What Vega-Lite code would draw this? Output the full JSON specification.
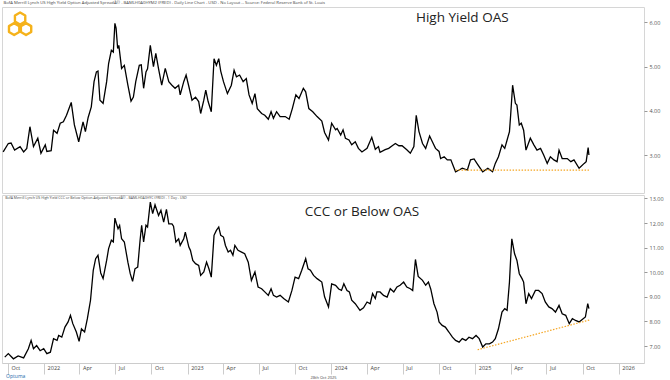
{
  "$schema": "https://vega.github.io/schema/vega-lite/v6.json",
  "padding": 0,
  "background": "white",
  "spacing": 0,
  "config": {"view": {"stroke": "#d6d6d6"}, "font": "Open Sans", "concat": {"spacing": 0}, "axis": {"labelOverlap": false}},
  "title": {"text": "Optuma", "orient": "bottom", "anchor": "start", "fontSize": 5, "fontWeight": "normal", "color": "#2266aa", "offset": -6, "dx": 6},
  "datasets": {
    "hy": [
      {"date":"2021-09-19","oas":3.07},{"date":"2021-10-02","oas":3.26},{"date":"2021-10-09","oas":3.27},{"date":"2021-10-18","oas":3.11},{"date":"2021-11-01","oas":3.19},{"date":"2021-11-10","oas":3.07},{"date":"2021-11-18","oas":3.15},{"date":"2021-11-26","oas":3.64},{"date":"2021-12-05","oas":3.19},{"date":"2021-12-16","oas":3.38},{"date":"2021-12-24","oas":3.04},
      {"date":"2022-01-04","oas":3.23},{"date":"2022-01-08","oas":3.08},{"date":"2022-01-19","oas":3.10},{"date":"2022-01-25","oas":3.56},{"date":"2022-02-03","oas":3.49},{"date":"2022-02-11","oas":3.72},{"date":"2022-02-19","oas":3.75},{"date":"2022-02-27","oas":3.90},{"date":"2022-03-11","oas":4.19},{"date":"2022-03-19","oas":3.68},{"date":"2022-03-30","oas":3.30},{"date":"2022-04-10","oas":3.75},{"date":"2022-04-16","oas":3.53},{"date":"2022-04-23","oas":3.85},{"date":"2022-05-01","oas":4.09},{"date":"2022-05-08","oas":4.66},{"date":"2022-05-14","oas":4.88},{"date":"2022-05-18","oas":4.90},{"date":"2022-05-23","oas":4.24},{"date":"2022-05-31","oas":4.17},{"date":"2022-06-09","oas":4.66},{"date":"2022-06-14","oas":5.07},{"date":"2022-06-21","oas":5.37},{"date":"2022-06-26","oas":5.33},{"date":"2022-06-30","oas":5.98},{"date":"2022-07-03","oas":5.87},{"date":"2022-07-07","oas":5.41},{"date":"2022-07-10","oas":5.48},{"date":"2022-07-17","oas":4.96},{"date":"2022-07-24","oas":5.03},{"date":"2022-08-02","oas":4.58},{"date":"2022-08-10","oas":4.22},{"date":"2022-08-16","oas":4.31},{"date":"2022-08-22","oas":4.66},{"date":"2022-08-31","oas":5.03},{"date":"2022-09-05","oas":5.04},{"date":"2022-09-11","oas":4.51},{"date":"2022-09-17","oas":4.88},{"date":"2022-09-21","oas":4.95},{"date":"2022-09-28","oas":5.48},{"date":"2022-10-06","oas":5.00},{"date":"2022-10-12","oas":5.30},{"date":"2022-10-19","oas":4.95},{"date":"2022-10-27","oas":4.58},{"date":"2022-11-05","oas":4.96},{"date":"2022-11-14","oas":4.66},{"date":"2022-11-22","oas":4.58},{"date":"2022-11-30","oas":4.51},{"date":"2022-12-09","oas":4.58},{"date":"2022-12-13","oas":4.36},{"date":"2022-12-22","oas":4.66},{"date":"2022-12-28","oas":4.81},
      {"date":"2023-01-04","oas":4.55},{"date":"2023-01-12","oas":4.24},{"date":"2023-01-21","oas":4.31},{"date":"2023-01-29","oas":4.21},{"date":"2023-02-03","oas":3.94},{"date":"2023-02-11","oas":4.24},{"date":"2023-02-16","oas":4.47},{"date":"2023-02-22","oas":4.21},{"date":"2023-03-02","oas":3.98},{"date":"2023-03-09","oas":5.18},{"date":"2023-03-15","oas":5.03},{"date":"2023-03-21","oas":5.18},{"date":"2023-03-26","oas":4.90},{"date":"2023-04-02","oas":4.66},{"date":"2023-04-12","oas":4.39},{"date":"2023-04-22","oas":4.58},{"date":"2023-04-29","oas":4.92},{"date":"2023-05-05","oas":4.77},{"date":"2023-05-13","oas":4.81},{"date":"2023-05-22","oas":4.66},{"date":"2023-05-30","oas":4.73},{"date":"2023-06-06","oas":4.36},{"date":"2023-06-14","oas":4.17},{"date":"2023-06-21","oas":4.39},{"date":"2023-06-27","oas":4.05},{"date":"2023-07-08","oas":3.94},{"date":"2023-07-16","oas":3.90},{"date":"2023-07-25","oas":3.81},{"date":"2023-08-01","oas":3.98},{"date":"2023-08-07","oas":3.83},{"date":"2023-08-15","oas":3.98},{"date":"2023-08-24","oas":3.87},{"date":"2023-09-06","oas":3.87},{"date":"2023-09-16","oas":3.81},{"date":"2023-09-24","oas":4.05},{"date":"2023-10-03","oas":4.36},{"date":"2023-10-11","oas":4.28},{"date":"2023-10-22","oas":4.51},{"date":"2023-10-28","oas":4.43},{"date":"2023-11-05","oas":4.05},{"date":"2023-11-15","oas":3.98},{"date":"2023-11-26","oas":3.87},{"date":"2023-12-08","oas":3.77},{"date":"2023-12-15","oas":3.51},{"date":"2023-12-25","oas":3.34},
      {"date":"2024-01-02","oas":3.72},{"date":"2024-01-12","oas":3.57},{"date":"2024-01-16","oas":3.60},{"date":"2024-01-25","oas":3.45},{"date":"2024-01-31","oas":3.57},{"date":"2024-02-06","oas":3.38},{"date":"2024-02-15","oas":3.34},{"date":"2024-02-22","oas":3.23},{"date":"2024-03-02","oas":3.30},{"date":"2024-03-10","oas":3.15},{"date":"2024-03-19","oas":3.07},{"date":"2024-04-01","oas":3.15},{"date":"2024-04-13","oas":3.40},{"date":"2024-04-22","oas":3.13},{"date":"2024-04-30","oas":3.19},{"date":"2024-05-04","oas":3.06},{"date":"2024-05-17","oas":3.12},{"date":"2024-05-26","oas":3.15},{"date":"2024-06-04","oas":3.21},{"date":"2024-06-12","oas":3.26},{"date":"2024-06-21","oas":3.21},{"date":"2024-06-29","oas":3.21},{"date":"2024-07-11","oas":3.12},{"date":"2024-07-20","oas":3.04},{"date":"2024-07-29","oas":3.19},{"date":"2024-08-04","oas":3.90},{"date":"2024-08-11","oas":3.53},{"date":"2024-08-20","oas":3.26},{"date":"2024-08-28","oas":3.15},{"date":"2024-09-07","oas":3.43},{"date":"2024-09-14","oas":3.30},{"date":"2024-09-22","oas":3.15},{"date":"2024-10-01","oas":3.08},{"date":"2024-10-05","oas":2.92},{"date":"2024-10-14","oas":2.96},{"date":"2024-10-22","oas":2.89},{"date":"2024-10-31","oas":2.89},{"date":"2024-11-12","oas":2.62},{"date":"2024-11-21","oas":2.66},{"date":"2024-11-29","oas":2.70},{"date":"2024-12-12","oas":2.66},{"date":"2024-12-20","oas":2.89},{"date":"2024-12-29","oas":2.91},
      {"date":"2025-01-07","oas":2.79},{"date":"2025-01-20","oas":2.62},{"date":"2025-02-02","oas":2.70},{"date":"2025-02-14","oas":2.62},{"date":"2025-02-21","oas":2.81},{"date":"2025-03-01","oas":2.96},{"date":"2025-03-10","oas":3.23},{"date":"2025-03-17","oas":3.15},{"date":"2025-03-23","oas":3.34},{"date":"2025-03-29","oas":3.53},{"date":"2025-04-01","oas":3.90},{"date":"2025-04-06","oas":4.58},{"date":"2025-04-13","oas":4.17},{"date":"2025-04-17","oas":4.13},{"date":"2025-04-23","oas":3.68},{"date":"2025-04-28","oas":3.72},{"date":"2025-05-04","oas":3.56},{"date":"2025-05-10","oas":3.11},{"date":"2025-05-21","oas":3.38},{"date":"2025-05-30","oas":3.23},{"date":"2025-06-07","oas":3.11},{"date":"2025-06-16","oas":3.15},{"date":"2025-06-24","oas":3.00},{"date":"2025-07-03","oas":2.81},{"date":"2025-07-11","oas":2.96},{"date":"2025-07-20","oas":2.89},{"date":"2025-07-28","oas":2.85},{"date":"2025-08-02","oas":3.11},{"date":"2025-08-10","oas":2.92},{"date":"2025-08-23","oas":2.92},{"date":"2025-09-01","oas":2.85},{"date":"2025-09-09","oas":2.89},{"date":"2025-09-22","oas":2.70},{"date":"2025-10-05","oas":2.81},{"date":"2025-10-10","oas":2.85},{"date":"2025-10-15","oas":3.17},{"date":"2025-10-17","oas":3.00}
    ],
    "hyTrend": [{"date":"2024-11-12","oas":2.66},{"date":"2025-10-17","oas":2.66}],
    "ccc": [
      {"date":"2021-09-23","oas":6.55},{"date":"2021-10-02","oas":6.69},{"date":"2021-10-15","oas":6.48},{"date":"2021-10-27","oas":6.60},{"date":"2021-11-10","oas":6.52},{"date":"2021-11-22","oas":6.89},{"date":"2021-11-29","oas":7.23},{"date":"2021-12-05","oas":6.89},{"date":"2021-12-13","oas":7.02},{"date":"2021-12-22","oas":6.81},{"date":"2021-12-31","oas":6.89},
      {"date":"2022-01-08","oas":6.69},{"date":"2022-01-17","oas":6.75},{"date":"2022-01-25","oas":7.30},{"date":"2022-02-03","oas":7.23},{"date":"2022-02-07","oas":7.43},{"date":"2022-02-15","oas":7.36},{"date":"2022-02-23","oas":7.77},{"date":"2022-03-03","oas":7.98},{"date":"2022-03-09","oas":8.25},{"date":"2022-03-15","oas":7.91},{"date":"2022-03-24","oas":7.57},{"date":"2022-03-31","oas":7.19},{"date":"2022-04-06","oas":7.70},{"date":"2022-04-14","oas":7.57},{"date":"2022-04-21","oas":8.11},{"date":"2022-04-29","oas":8.86},{"date":"2022-05-06","oas":10.08},{"date":"2022-05-12","oas":10.55},{"date":"2022-05-18","oas":10.69},{"date":"2022-05-25","oas":9.97},{"date":"2022-05-31","oas":9.74},{"date":"2022-06-09","oas":10.48},{"date":"2022-06-14","oas":10.96},{"date":"2022-06-21","oas":11.30},{"date":"2022-06-26","oas":11.23},{"date":"2022-06-30","oas":12.20},{"date":"2022-07-04","oas":11.97},{"date":"2022-07-08","oas":11.77},{"date":"2022-07-12","oas":11.90},{"date":"2022-07-17","oas":11.36},{"date":"2022-07-24","oas":11.23},{"date":"2022-08-02","oas":10.41},{"date":"2022-08-08","oas":9.94},{"date":"2022-08-14","oas":9.63},{"date":"2022-08-20","oas":10.14},{"date":"2022-08-27","oas":10.21},{"date":"2022-09-02","oas":11.30},{"date":"2022-09-06","oas":11.91},{"date":"2022-09-11","oas":11.23},{"date":"2022-09-17","oas":11.91},{"date":"2022-09-21","oas":11.84},{"date":"2022-09-28","oas":12.85},{"date":"2022-10-04","oas":12.38},{"date":"2022-10-10","oas":12.74},{"date":"2022-10-19","oas":12.31},{"date":"2022-10-25","oas":12.52},{"date":"2022-11-01","oas":12.04},{"date":"2022-11-08","oas":12.56},{"date":"2022-11-14","oas":11.97},{"date":"2022-11-22","oas":11.97},{"date":"2022-11-26","oas":11.87},{"date":"2022-12-02","oas":11.23},{"date":"2022-12-09","oas":11.36},{"date":"2022-12-13","oas":11.09},{"date":"2022-12-22","oas":11.36},{"date":"2022-12-26","oas":11.63},
      {"date":"2023-01-04","oas":11.02},{"date":"2023-01-08","oas":10.89},{"date":"2023-01-14","oas":10.48},{"date":"2023-01-21","oas":10.35},{"date":"2023-01-29","oas":10.28},{"date":"2023-02-03","oas":9.87},{"date":"2023-02-11","oas":10.01},{"date":"2023-02-18","oas":10.41},{"date":"2023-02-24","oas":10.14},{"date":"2023-03-02","oas":9.80},{"date":"2023-03-09","oas":11.50},{"date":"2023-03-15","oas":11.70},{"date":"2023-03-21","oas":11.84},{"date":"2023-03-26","oas":11.50},{"date":"2023-04-02","oas":11.43},{"date":"2023-04-07","oas":11.09},{"date":"2023-04-14","oas":10.82},{"date":"2023-04-20","oas":10.89},{"date":"2023-04-26","oas":10.69},{"date":"2023-05-01","oas":11.09},{"date":"2023-05-09","oas":10.89},{"date":"2023-05-18","oas":10.82},{"date":"2023-05-26","oas":10.75},{"date":"2023-06-04","oas":10.41},{"date":"2023-06-12","oas":9.67},{"date":"2023-06-21","oas":10.01},{"date":"2023-06-29","oas":9.40},{"date":"2023-07-08","oas":9.33},{"date":"2023-07-16","oas":9.20},{"date":"2023-07-25","oas":9.06},{"date":"2023-08-01","oas":9.33},{"date":"2023-08-07","oas":9.06},{"date":"2023-08-15","oas":8.99},{"date":"2023-08-24","oas":9.06},{"date":"2023-09-02","oas":8.93},{"date":"2023-09-14","oas":8.79},{"date":"2023-09-23","oas":9.26},{"date":"2023-10-01","oas":9.80},{"date":"2023-10-10","oas":9.74},{"date":"2023-10-18","oas":10.08},{"date":"2023-10-28","oas":10.55},{"date":"2023-11-03","oas":10.14},{"date":"2023-11-09","oas":10.08},{"date":"2023-11-17","oas":9.87},{"date":"2023-11-26","oas":9.74},{"date":"2023-12-08","oas":9.60},{"date":"2023-12-15","oas":9.00},{"date":"2023-12-25","oas":8.59},
      {"date":"2024-01-02","oas":9.53},{"date":"2024-01-12","oas":9.47},{"date":"2024-01-20","oas":9.32},{"date":"2024-01-27","oas":9.26},{"date":"2024-02-02","oas":9.53},{"date":"2024-02-10","oas":9.26},{"date":"2024-02-16","oas":9.20},{"date":"2024-02-22","oas":8.86},{"date":"2024-03-02","oas":8.72},{"date":"2024-03-14","oas":8.45},{"date":"2024-03-23","oas":8.55},{"date":"2024-04-01","oas":8.79},{"date":"2024-04-09","oas":8.72},{"date":"2024-04-15","oas":9.13},{"date":"2024-04-22","oas":8.93},{"date":"2024-04-26","oas":9.20},{"date":"2024-05-04","oas":9.20},{"date":"2024-05-13","oas":9.06},{"date":"2024-05-22","oas":8.99},{"date":"2024-05-30","oas":9.33},{"date":"2024-06-08","oas":9.20},{"date":"2024-06-16","oas":9.40},{"date":"2024-06-24","oas":9.47},{"date":"2024-07-03","oas":9.60},{"date":"2024-07-11","oas":9.40},{"date":"2024-07-20","oas":9.33},{"date":"2024-07-26","oas":9.26},{"date":"2024-08-02","oas":10.52},{"date":"2024-08-09","oas":9.83},{"date":"2024-08-20","oas":9.67},{"date":"2024-08-28","oas":9.47},{"date":"2024-09-04","oas":9.60},{"date":"2024-09-10","oas":9.31},{"date":"2024-09-18","oas":8.72},{"date":"2024-09-26","oas":8.38},{"date":"2024-10-01","oas":7.98},{"date":"2024-10-09","oas":7.84},{"date":"2024-10-17","oas":7.77},{"date":"2024-10-26","oas":7.57},{"date":"2024-11-04","oas":7.36},{"date":"2024-11-12","oas":7.23},{"date":"2024-11-21","oas":7.16},{"date":"2024-11-29","oas":7.30},{"date":"2024-12-08","oas":7.23},{"date":"2024-12-16","oas":7.36},{"date":"2024-12-25","oas":7.30},
      {"date":"2025-01-03","oas":7.43},{"date":"2025-01-11","oas":7.30},{"date":"2025-01-20","oas":6.96},{"date":"2025-01-28","oas":7.09},{"date":"2025-02-06","oas":7.09},{"date":"2025-02-14","oas":7.16},{"date":"2025-02-21","oas":7.30},{"date":"2025-03-01","oas":7.70},{"date":"2025-03-10","oas":8.38},{"date":"2025-03-17","oas":8.52},{"date":"2025-03-23","oas":8.45},{"date":"2025-03-29","oas":9.60},{"date":"2025-04-01","oas":10.55},{"date":"2025-04-04","oas":11.36},{"date":"2025-04-11","oas":10.75},{"date":"2025-04-17","oas":10.48},{"date":"2025-04-23","oas":9.94},{"date":"2025-04-30","oas":9.74},{"date":"2025-05-04","oas":9.60},{"date":"2025-05-10","oas":8.72},{"date":"2025-05-17","oas":9.13},{"date":"2025-05-24","oas":8.93},{"date":"2025-06-03","oas":9.26},{"date":"2025-06-11","oas":9.26},{"date":"2025-06-20","oas":9.13},{"date":"2025-06-28","oas":8.79},{"date":"2025-07-07","oas":8.59},{"date":"2025-07-15","oas":8.52},{"date":"2025-07-24","oas":8.38},{"date":"2025-08-02","oas":8.65},{"date":"2025-08-10","oas":8.31},{"date":"2025-08-19","oas":8.25},{"date":"2025-08-28","oas":7.91},{"date":"2025-09-05","oas":8.11},{"date":"2025-09-13","oas":8.04},{"date":"2025-09-22","oas":7.98},{"date":"2025-09-30","oas":8.08},{"date":"2025-10-08","oas":8.18},{"date":"2025-10-14","oas":8.72},{"date":"2025-10-17","oas":8.52}
    ],
    "cccTrend": [{"date":"2025-01-07","oas":6.85},{"date":"2025-10-21","oas":8.07}]
  },
  "vconcat": [
    {
      "width": 642,
      "height": 186,
      "title": {"text": "BofA Merrill Lynch US High Yield Option Adjusted SpreadÂ© - BAMLH0A0HYM2 (FRED) - Daily Line Chart - USD - No Layout -- Source: Federal Reserve Bank of St. Louis", "anchor": "start", "fontSize": 4.2, "fontWeight": "normal", "color": "#444444", "offset": 2, "dx": 3},
      "layer": [
        {
          "data": {"name": "hy"},
          "mark": {"type": "line", "color": "#000000", "strokeWidth": 1.3},
          "encoding": {
            "x": {"field": "date", "type": "temporal", "scale": {"domain": [{"year": 2021, "month": 9, "date": 16}, {"year": 2026, "month": 3, "date": 6}]}, "axis": null},
            "y": {"field": "oas", "type": "quantitative", "scale": {"domain": [2.14, 6.35], "nice": false, "zero": false},
                  "axis": {"orient": "right", "values": [3, 4, 5, 6], "format": ".2f", "labelFontSize": 5.5, "labelColor": "#555555", "labelOverlap": false, "tickSize": 3, "tickColor": "#999999", "domain": false, "grid": false, "title": null, "labelPadding": 2}}
          }
        },
        {
          "data": {"name": "hyTrend"},
          "mark": {"type": "line", "color": "#F5A623", "strokeWidth": 1.2, "strokeDash": [1.5, 1.5]},
          "encoding": {"x": {"field": "date", "type": "temporal", "axis": null},
                       "y": {"field": "oas", "type": "quantitative", "axis": {"orient": "right", "values": [3, 4, 5, 6], "format": ".2f", "labelFontSize": 5.5, "labelColor": "#555555", "labelOverlap": false, "tickSize": 3, "tickColor": "#999999", "domain": false, "grid": false, "title": null, "labelPadding": 2}}}
        },
        {
          "data": {"values": [{}]},
          "mark": {"type": "text", "text": "High Yield OAS", "fontSize": 13.5, "color": "#222222", "align": "center", "baseline": "middle"},
          "encoding": {"x": {"datum": {"year": 2024, "month": 11, "date": 29}, "type": "temporal", "axis": null},
                       "y": {"datum": 6.1, "type": "quantitative", "axis": {"orient": "right", "values": [3, 4, 5, 6], "format": ".2f", "labelFontSize": 5.5, "labelColor": "#555555", "labelOverlap": false, "tickSize": 3, "tickColor": "#999999", "domain": false, "grid": false, "title": null, "labelPadding": 2}}}
        },
        {
          "data": {"values": [{}]},
          "mark": {"type": "point", "shape": "M0,-0.95L0.39,-0.725L0.39,-0.275L0,-0.05L-0.39,-0.275L-0.39,-0.725ZM-0.45,-0.15L-0.06,0.075L-0.06,0.525L-0.45,0.75L-0.84,0.525L-0.84,0.075ZM0.45,-0.15L0.84,0.075L0.84,0.525L0.45,0.75L0.06,0.525L0.06,0.075Z", "size": 700, "filled": false, "stroke": "#F5B21B", "strokeWidth": 2.4, "strokeJoin": "round", "opacity": 1},
          "encoding": {"x": {"datum": {"year": 2021, "month": 11, "date": 1}, "type": "temporal", "axis": null},
                       "y": {"datum": 5.94, "type": "quantitative", "axis": {"orient": "right", "values": [3, 4, 5, 6], "format": ".2f", "labelFontSize": 5.5, "labelColor": "#555555", "labelOverlap": false, "tickSize": 3, "tickColor": "#999999", "domain": false, "grid": false, "title": null, "labelPadding": 2}}}
        }
      ]
    },
    {
      "width": 642,
      "height": 168,
      "layer": [
        {
          "data": {"name": "ccc"},
          "mark": {"type": "line", "color": "#000000", "strokeWidth": 1.3},
          "encoding": {
            "x": {"field": "date", "type": "temporal", "scale": {"domain": [{"year": 2021, "month": 9, "date": 16}, {"year": 2026, "month": 3, "date": 6}]},
                  "axis": {"orient": "bottom", "tickCount": {"interval": "month", "step": 3}, "labelExpr": "month(datum.value) == 0 ? timeFormat(datum.value, '%Y') : timeFormat(datum.value, '%b')", "labelAlign": "left", "labelBaseline": "top", "labelOffset": 3, "tickSize": 11, "labelPadding": -9, "labelFontSize": 5.5, "labelColor": "#444444", "labelFlush": false, "labelOverlap": false, "labelBound": false, "domainColor": "#cccccc", "tickColor": "#cccccc", "grid": false, "title": "28th Oct 2025", "titleFontSize": 4, "titleFontWeight": "normal", "titleColor": "#444444", "titlePadding": 1}},
            "y": {"field": "oas", "type": "quantitative", "scale": {"domain": [6.31, 13.14], "nice": false, "zero": false},
                  "axis": {"orient": "right", "values": [7, 8, 9, 10, 11, 12, 13], "format": ".2f", "labelFontSize": 5.5, "labelColor": "#555555", "labelOverlap": false, "tickSize": 3, "tickColor": "#999999", "domain": false, "grid": false, "title": null, "labelPadding": 2}}
          }
        },
        {
          "data": {"name": "cccTrend"},
          "mark": {"type": "line", "color": "#F5A623", "strokeWidth": 1.2, "strokeDash": [1.5, 1.5]},
          "encoding": {"x": {"field": "date", "type": "temporal"},
                       "y": {"field": "oas", "type": "quantitative", "axis": {"orient": "right", "values": [7, 8, 9, 10, 11, 12, 13], "format": ".2f", "labelFontSize": 5.5, "labelColor": "#555555", "labelOverlap": false, "tickSize": 3, "tickColor": "#999999", "domain": false, "grid": false, "title": null, "labelPadding": 2}}}
        },
        {
          "data": {"values": [{}]},
          "mark": {"type": "text", "text": "CCC or Below OAS", "fontSize": 13.5, "color": "#222222", "align": "center", "baseline": "middle"},
          "encoding": {"x": {"datum": {"year": 2024, "month": 3, "date": 19}, "type": "temporal"},
                       "y": {"datum": 12.45, "type": "quantitative", "axis": {"orient": "right", "values": [7, 8, 9, 10, 11, 12, 13], "format": ".2f", "labelFontSize": 5.5, "labelColor": "#555555", "labelOverlap": false, "tickSize": 3, "tickColor": "#999999", "domain": false, "grid": false, "title": null, "labelPadding": 2}}}
        },
        {
          "data": {"values": [{}]},
          "mark": {"type": "text", "text": "BofA Merrill Lynch US High Yield CCC or Below Option-Adjusted SpreadÂ© - BAMLH0A3HYC (FRED) - 1 Day - USD", "fontSize": 3.5, "color": "#444444", "align": "left", "baseline": "middle"},
          "encoding": {"x": {"datum": {"year": 2021, "month": 9, "date": 24}, "type": "temporal"},
                       "y": {"datum": 13.0, "type": "quantitative", "axis": {"orient": "right", "values": [7, 8, 9, 10, 11, 12, 13], "format": ".2f", "labelFontSize": 5.5, "labelColor": "#555555", "labelOverlap": false, "tickSize": 3, "tickColor": "#999999", "domain": false, "grid": false, "title": null, "labelPadding": 2}}}
        }
      ]
    }
  ]
}
